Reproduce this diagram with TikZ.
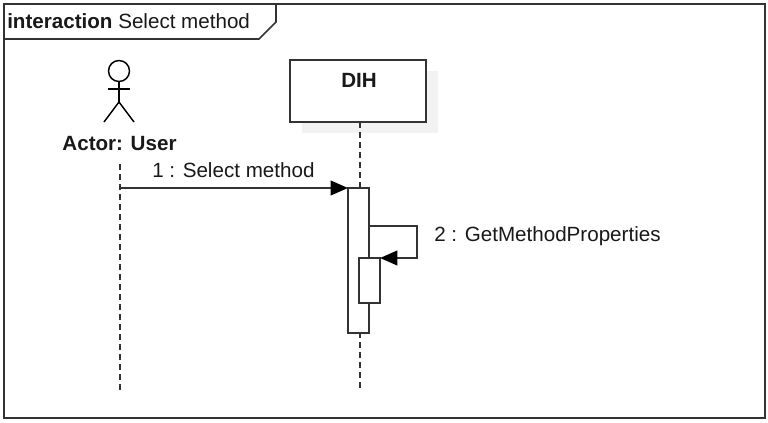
\documentclass[tikz,border=0pt]{standalone}
\usepackage{fontspec}
\setmainfont{Liberation Sans}
\usetikzlibrary{arrows.meta,positioning}
\definecolor{linecol}{HTML}{333333}
\tikzset{
  px/.style={x=0.75pt,y=-0.75pt},
  line/.style={draw=linecol,line width=1.2pt},
  lifeline/.style={draw=linecol,line width=1.1pt,dash pattern=on 4.5pt off 3pt},
  lifebox/.style={draw=linecol,line width=1.2pt,fill=white,inner sep=0pt,minimum width=102pt,minimum height=46.5pt},
  shadowbox/.style={fill=black!5,draw=none,inner sep=0pt,minimum width=102pt,minimum height=46.5pt},
  activation/.style={draw=linecol,line width=1.2pt,fill=white,inner sep=0pt,outer sep=0pt,minimum width=15.75pt},
  msg/.style={draw=linecol,line width=1.25pt,-{Triangle[length=13pt,width=11pt,fill=black,color=black]}},
  txt/.style={font=\fontsize{15.45pt}{18pt}\selectfont,text=black!90,inner sep=0pt,anchor=base west},
  btxt/.style={font=\fontsize{15.45pt}{18pt}\selectfont\bfseries,text=black!90,inner sep=0pt,anchor=base},
}
\begin{document}
\begin{tikzpicture}[px]
\useasboundingbox (0,0) rectangle (768,422);
\fill[white] (0,0) rectangle (768,422);
% frame
\draw[line] (4,4) rectangle (765,418);
\draw[line] (4,39) -- (259,39) -- (276,22) -- (276,4);
\node[txt] (frametitle) at (7,28.5) {\textbf{interaction} Select method};
% actor
\node[draw=black,line width=1.1pt,circle,minimum size=15.75pt,inner sep=0pt] (head) at (119,71) {};
\coordinate (hip) at (119,102);
\coordinate (armL) at (108,89);
\coordinate (armR) at (130,89);
\coordinate (legL) at (104,122);
\coordinate (legR) at (134,122);
\draw[draw=black,line width=1.1pt] (head) -- (hip);
\draw[draw=black,line width=1.1pt] (armL) -- (armR);
\draw[draw=black,line width=1.1pt] (legL) -- (hip) -- (legR);
\node[btxt] (actorlabel) at (119.5,150.7) {Actor: User};
% DIH lifeline head
\node[shadowbox] (dihshadow) at (370,102) {};
\node[lifebox] (dih) at (358,91) {};
\node[btxt] (dihlabel) at (359,87.7) {DIH};
% lifelines
\coordinate (actortop) at (120,164);
\coordinate (actorend) at (120,390);
\coordinate (dihtop) at (360,122);
\coordinate (dihend) at (360,390);
\draw[lifeline] (actortop) -- (actorend);
\draw[lifeline] (dihtop) -- (dihend);
% activations
\node[activation,minimum height=108.75pt] (act1) at (358.5,260.5) {};
\node[activation,minimum height=33.75pt] (act2) at (369.5,280.5) {};
% messages
\coordinate (m1start) at (120,188);
\coordinate (m2a) at (417,226);
\coordinate (m2b) at (417,258);
\draw[msg] (m1start) -- (act1.north west);
\draw[msg] (act1.east |- m2a) -- (m2a) -- (m2b) -- (act2.north east);
\node[txt] (m1label) at (152,177.7) {1 : Select method};
\node[txt] (m2label) at (434,241.7) {2 : GetMethodProperties};
\end{tikzpicture}
\end{document}
